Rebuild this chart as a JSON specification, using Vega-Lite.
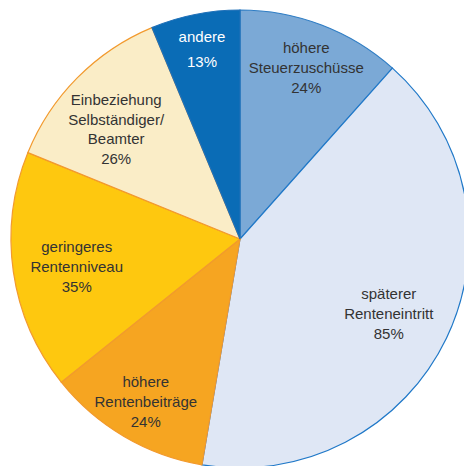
{
  "$schema": "https://vega.github.io/schema/vega-lite/v6.json",
  "width": 480,
  "height": 478,
  "autosize": "none",
  "padding": 0,
  "background": "white",
  "config": {"view": {"stroke": null}},
  "data": {"values": [
    {"idx": 1, "name": "höhere Steuerzuschüsse", "label": "höhere\nSteuerzuschüsse\n24%", "value": 24},
    {"idx": 2, "name": "späterer Renteneintritt", "label": "späterer\nRenteneintritt\n85%", "value": 85},
    {"idx": 3, "name": "höhere Rentenbeiträge", "label": "höhere\nRentenbeiträge\n24%", "value": 24},
    {"idx": 4, "name": "geringeres Rentenniveau", "label": "geringeres\nRentenniveau\n35%", "value": 35},
    {"idx": 5, "name": "Einbeziehung Selbständiger/Beamter", "label": "Einbeziehung\nSelbständiger/\nBeamter\n26%", "value": 26},
    {"idx": 6, "name": "andere", "label": "andere\n13%", "value": 13}
  ]},
  "encoding": {
    "theta": {"field": "value", "type": "quantitative", "stack": true},
    "order": {"field": "idx", "type": "quantitative"}
  },
  "layer": [
    {
      "mark": {"type": "arc", "radius": 229, "strokeWidth": 1.2},
      "encoding": {
        "color": {"field": "name", "type": "nominal", "legend": null,
          "scale": {"domain": ["höhere Steuerzuschüsse", "späterer Renteneintritt", "höhere Rentenbeiträge", "geringeres Rentenniveau", "Einbeziehung Selbständiger/Beamter", "andere"],
                    "range": ["#7BA9D6", "#DFE7F5", "#F6A521", "#FEC80F", "#FAEDC7", "#0A6CB6"]}},
        "stroke": {"field": "name", "type": "nominal", "legend": null,
          "scale": {"domain": ["höhere Steuerzuschüsse", "späterer Renteneintritt", "höhere Rentenbeiträge", "geringeres Rentenniveau", "Einbeziehung Selbständiger/Beamter", "andere"],
                    "range": ["#2F7DC4", "#1F78C8", "#F29A2E", "#F29A2E", "#F29A2E", "#1F70B8"]}}
      }
    },
    {
      "mark": {"type": "text", "radius": 186, "dy": -17, "font": "Liberation Sans", "fontSize": 15, "lineHeight": 20, "lineBreak": "\n", "color": "#333333", "align": "center", "baseline": "middle"},
      "encoding": {
        "text": {"condition": {"test": "datum.idx == 1 || datum.idx == 3", "field": "label"}, "value": ""}
      }
    },
    {
      "mark": {"type": "text", "radius": 165, "dy": -16, "font": "Liberation Sans", "fontSize": 15, "lineHeight": 20, "lineBreak": "\n", "color": "#333333", "align": "center", "baseline": "middle"},
      "encoding": {
        "text": {"condition": {"test": "datum.idx == 2 || datum.idx == 4", "field": "label"}, "value": ""}
      }
    },
    {
      "mark": {"type": "text", "radius": 166, "dx": -6, "dy": -22, "font": "Liberation Sans", "fontSize": 15, "lineHeight": 19.5, "lineBreak": "\n", "color": "#333333", "align": "center", "baseline": "middle"},
      "encoding": {
        "text": {"condition": {"test": "datum.idx == 5", "field": "label"}, "value": ""}
      }
    },
    {
      "mark": {"type": "text", "radius": 194, "dy": -12, "font": "Liberation Sans", "fontSize": 15, "lineHeight": 25, "lineBreak": "\n", "color": "#FFFFFF", "align": "center", "baseline": "middle"},
      "encoding": {
        "text": {"condition": {"test": "datum.idx == 6", "field": "label"}, "value": ""}
      }
    }
  ]
}
